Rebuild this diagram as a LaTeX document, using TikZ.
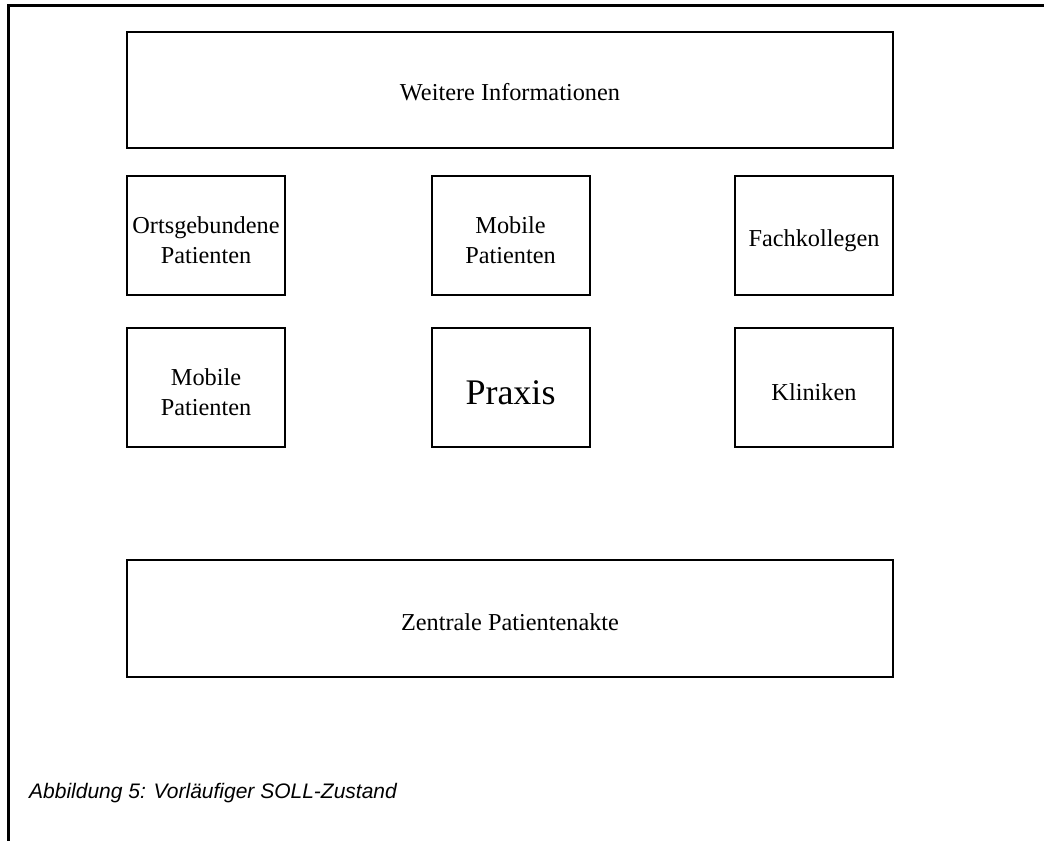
\documentclass[tikz,border=0pt]{standalone}
\usepackage{fontspec}
\setmainfont{Liberation Serif}
\newfontfamily\capfont{Liberation Sans}
\newcommand{\lift}[1]{\rule{0pt}{#1pt}}
\begin{document}
\begin{tikzpicture}[x=1pt,y=-1pt,
  box/.style={draw=black, line width=2pt, rectangle, inner sep=0pt, align=center,
    font=\fontsize{24.3}{30}\selectfont},
  wide/.style={box, minimum width=766pt},
  small/.style={box, minimum width=158pt, minimum height=119pt}]
\useasboundingbox (0,0) rectangle (1044,841);
\draw[line width=3pt] (1044,5) -- (8.5,5) -- (8.5,841);
\node[wide, minimum height=116pt] (info) at (510,90) {\lift{20.5}Weitere Informationen};
\node[small] (orts) at (206,235.5) {\lift{26.5}Ortsgebundene\\Patienten};
\node[small] (mob1) at (510.5,235.5) {\lift{26.5}Mobile\\Patienten};
\node[small] (fach) at (814,235.5) {\lift{26.5}Fachkollegen};
\node[small] (mob2) at (206,387.5) {\lift{26.5}Mobile\\Patienten};
\node[small, font=\fontsize{36}{40}\selectfont] (praxis) at (510.5,387.5) {\lift{34}Praxis};
\node[small] (klin) at (814,387.5) {\lift{26.5}Kliniken};
\node[wide, minimum height=117pt] (akte) at (510,618.5) {\lift{24.5}Zentrale Patientenakte};
\node[anchor=base west, inner sep=0pt, font=\capfont\itshape\fontsize{21}{25}\selectfont] (caption) at (29,798) {Abbildung 5: Vorläufiger SOLL-Zustand};
\end{tikzpicture}
\end{document}
